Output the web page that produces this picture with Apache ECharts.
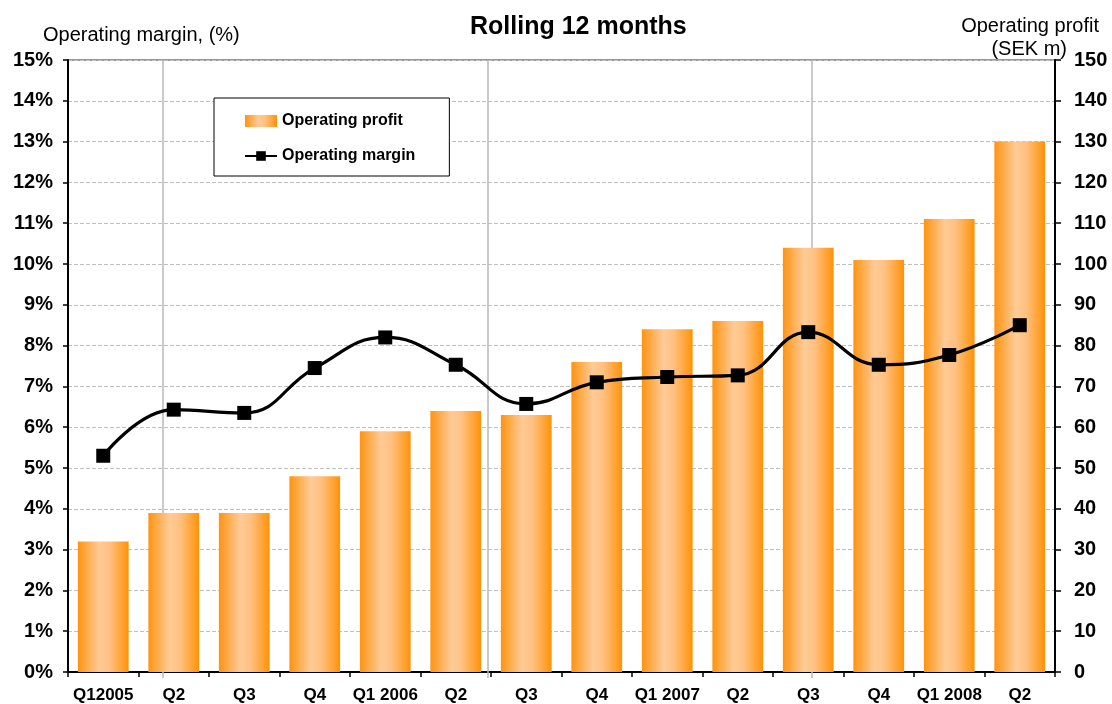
<!DOCTYPE html>
<html><head><meta charset="utf-8">
<script src="https://cdn.jsdelivr.net/npm/echarts@6/dist/echarts.min.js"></script>
<style>html,body{margin:0;padding:0;background:#fff}#c{width:1112px;height:704px}</style>
</head><body><div id="c"></div>
<script>
const categories = ['Q12005','Q2','Q3','Q4','Q1 2006','Q2','Q3','Q4','Q1 2007','Q2','Q3','Q4','Q1 2008','Q2'];
const operatingProfit = [32, 39, 39, 48, 59, 64, 63, 76, 84, 86, 104, 101, 111, 130];
const operatingMargin = [5.3, 6.43, 6.35, 7.45, 8.2, 7.53, 6.57, 7.1, 7.23, 7.27, 8.33, 7.53, 7.77, 8.5];
const leftTicks = {min: 0, max: 15, interval: 1};
const rightTicks = {min: 0, max: 150, interval: 10};

const chart = echarts.init(document.getElementById('c'));
const F = 'Liberation Sans, Arial, sans-serif';
const barGrad = new echarts.graphic.LinearGradient(0, 0, 1, 0, [
  {offset: 0, color: '#FF9312'},
  {offset: 0.42, color: '#FFCB96'},
  {offset: 0.62, color: '#FFC182'},
  {offset: 1, color: '#FF9208'}
]);
const grid = {left: 68, right: 57, top: 60, bottom: 32};
chart.setOption({
  animation: false,
  backgroundColor: '#fff',
  title: [
    {text: 'Rolling 12 months', left: 465, top: 10, textStyle: {fontFamily: F, fontSize: 25, fontWeight: 'bold', color: '#000'}},
    {text: 'Operating margin, (%)', left: 38, top: 20, textStyle: {fontFamily: F, fontSize: 20, fontWeight: 'normal', color: '#000'}},
    {text: 'Operating profit', right: 8, top: 11, textStyle: {fontFamily: F, fontSize: 20, fontWeight: 'normal', color: '#000'}},
    {text: '(SEK m)', right: 40, top: 34, textStyle: {fontFamily: F, fontSize: 20, fontWeight: 'normal', color: '#000'}}
  ],
  legend: {
    left: 214, top: 98, orient: 'vertical',
    padding: [15, 34, 12, 30], itemGap: 19,
    borderColor: '#000', borderWidth: 1, backgroundColor: '#fff',
    itemWidth: 32, itemHeight: 12,
    textStyle: {fontFamily: F, fontSize: 16, fontWeight: 'bold', color: '#000'},
    data: [
      {name: 'Operating profit', icon: 'rect', itemStyle: {color: barGrad}},
      {name: 'Operating margin'}
    ]
  },
  grid: Object.assign({show: true, borderColor: '#333', borderWidth: 1}, grid),
  xAxis: {
    type: 'category', data: categories,
    axisLine: {lineStyle: {color: '#000', width: 2}},
    axisTick: {show: true, length: 5, lineStyle: {color: '#000', width: 1.5}},
    axisLabel: {fontFamily: F, fontSize: 17, fontWeight: 'bold', color: '#000', margin: 15, interval: 0}
  },
  yAxis: [
    {type: 'value', min: leftTicks.min, max: leftTicks.max, interval: leftTicks.interval, position: 'left',
     axisLine: {show: true, lineStyle: {color: '#000', width: 2}},
     axisTick: {show: true, length: 5, lineStyle: {color: '#000', width: 1.5}},
     axisLabel: {fontFamily: F, fontSize: 20, fontWeight: 'bold', color: '#000', margin: 15, formatter: '{value}%'},
     splitLine: {show: true, lineStyle: {color: '#c0c0c0', type: [4, 2], width: 1}}},
    {type: 'value', min: rightTicks.min, max: rightTicks.max, interval: rightTicks.interval, position: 'right',
     axisLine: {show: true, lineStyle: {color: '#000', width: 2}},
     axisTick: {show: true, length: 6, lineStyle: {color: '#000', width: 1.5}},
     axisLabel: {fontFamily: F, fontSize: 20, fontWeight: 'bold', color: '#000', margin: 19},
     splitLine: {show: false}}
  ],
  graphic: [163, 488, 812].map(x => ({
    type: 'line', z: 1, silent: true,
    shape: {x1: x, y1: 60, x2: x, y2: 678},
    style: {stroke: '#b8b8b8', lineWidth: 1.5}
  })),
  series: [
    {name: 'Operating profit', type: 'bar', yAxisIndex: 1, data: operatingProfit,
     barCategoryGap: '28%', itemStyle: {color: barGrad}, z: 2},
    {name: 'Operating margin', type: 'line', yAxisIndex: 0, data: operatingMargin,
     smooth: 0.45, symbol: 'rect', symbolSize: 14,
     lineStyle: {color: '#000', width: 3.2}, itemStyle: {color: '#000'}, z: 5}
  ]
});
</script></body></html>
